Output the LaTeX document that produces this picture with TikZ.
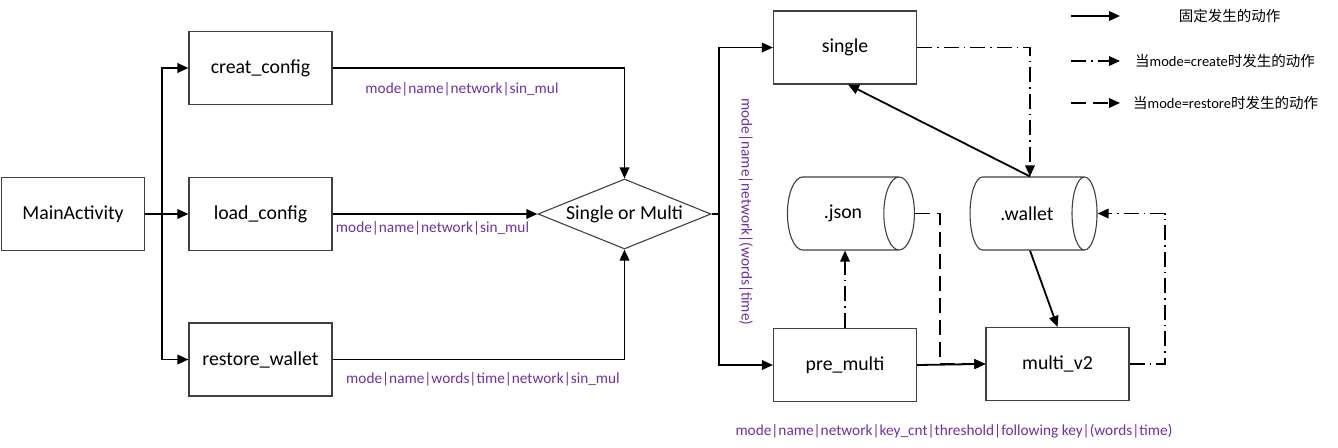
\documentclass[tikz,border=0pt]{standalone}
\usepackage{fontspec}
\setmainfont{Carlito}
\newfontfamily\cjk{Noto Sans CJK SC}
\usetikzlibrary{arrows.meta,shapes.geometric,calc}
\definecolor{labpurple}{HTML}{7030A0}
\begin{document}
\begin{tikzpicture}[x=1pt,y=-1pt,
 box/.style={draw=black!75, line width=1.1pt, minimum width=143pt, minimum height=73pt, inner sep=0pt, font=\fontsize{19.8}{22}\selectfont},
 cyl/.style={cylinder, draw=black!75, line width=1.1pt, aspect=1.8, minimum width=73pt, minimum height=127pt, inner sep=0pt, font=\fontsize{19.8}{22}\selectfont},
 conn/.style={line width=1.8pt, -{Triangle[length=11pt,width=9.5pt]}},
 plainline/.style={line width=1.8pt},
 dd/.style={conn, dash pattern=on 15pt off 5pt on 1.5pt off 5pt},
 dsh/.style={conn, dash pattern=on 15pt off 7pt},
 lab/.style={text=labpurple, font=\fontsize{15.3}{18}\selectfont, inner sep=0pt},
 leg/.style={font=\fontsize{14.5}{17}\selectfont, inner sep=0pt}
]
\useasboundingbox (0,0) rectangle (1338,447);

% nodes
\node[box] (main) at (73,214) {MainActivity};
\node[box] (creat) at (260.5,68) {creat\_config};
\node[box] (load) at (260.5,214) {load\_config};
\node[box] (restore) at (260.5,359.5) {restore\_wallet};
\node[diamond, draw=black!75, line width=1.1pt, aspect=2.47, minimum width=173pt, minimum height=70pt, inner sep=0pt, font=\fontsize{19.8}{22}\selectfont] (dia) at (624.5,214) {Single or Multi};
\node[box] (single) at (845,47.5) {single};
\node[box] (pre) at (845,365) {pre\_multi};
\node[box] (multi) at (1057.5,364) {multi\_v2};
\node[cyl] (json) at (843,213.5) {.json};
\node[cyl] (wallet) at (1027,213.5) {.wallet};

% helper coordinates
\coordinate (br) at (162,214);
\coordinate (sp) at (719,214);
\coordinate (jx) at (940,364);
\coordinate (cx) at (1165,290);

% connectors
\draw[conn] (main.east) -- (load.west);
\draw[conn] (br) |- (creat.west);
\draw[conn] (br) |- (restore.west);
\draw[conn] (creat.east) -| (dia.north);
\draw[conn] (load.east) -- (dia.west);
\draw[conn] (restore.east) -| (dia.south);
\draw[plainline] (dia.east) -- (sp);
\draw[conn] (sp) |- (single.west);
\draw[conn] (sp) |- (pre.west);
\draw[dd] (single.east) -| ([xshift=3pt]wallet.north);
\draw[conn] ([xshift=3pt]wallet.north) -- ([xshift=3pt]single.south);
\draw[conn] ([xshift=3pt]wallet.south) -- (multi.north);
\draw[dd] (pre.north) -- (pre.north |- json.south);
\draw[dsh] (json.east) -| (jx) -- (multi.west);
\draw[conn] (pre.east) -- (multi.west);
\draw[dd] (multi.east) -| (cx) |- (wallet.east);

% labels
\node[lab] (l1) at (462,89) {mode|name|network|sin\_mul};
\node[lab] (l2) at (432.5,228) {mode|name|network|sin\_mul};
\node[lab] (l3) at (483,379) {mode|name|words|time|network|sin\_mul};
\node[lab, rotate=-90] (l4) at (746,212) {mode|name|network|(words|time)};
\node[lab] (l5) at (954,431) {mode|name|network|key\_cnt|threshold|following key|(words|time)};

% legend
\coordinate (a1) at (1071,16);
\coordinate (b1) at (1120,16);
\coordinate (a2) at (1071,61);
\coordinate (b2) at (1120,61);
\coordinate (a3) at (1071,103);
\coordinate (b3) at (1120,103);
\draw[conn] (a1) -- (b1);
\draw[dd] (a2) -- (b2);
\draw[dsh] (a3) -- (b3);
\node[leg] (t1) at (1229.5,16) {\cjk 固定发生的动作};
\node[leg, anchor=west] (t2) at (1135,61) {{\cjk 当}mode=create{\cjk 时发生的动作}};
\node[leg, anchor=west] (t3) at (1133,103) {{\cjk 当}mode=restore{\cjk 时发生的动作}};
\end{tikzpicture}
\end{document}
